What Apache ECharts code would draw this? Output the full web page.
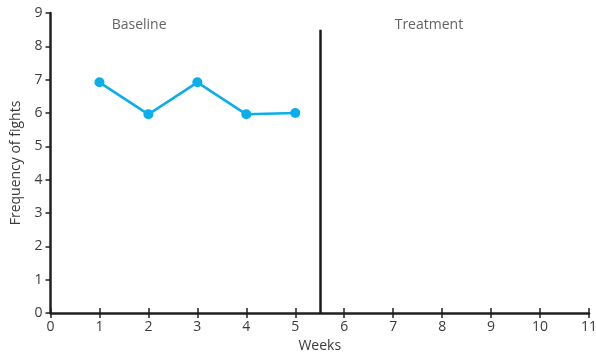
<!DOCTYPE html>
<html>
<head>
<meta charset="utf-8">
<script src="https://cdn.jsdelivr.net/npm/echarts@6/dist/echarts.min.js"></script>
<style>
  html, body { margin: 0; padding: 0; background: #fff; }
  #main { width: 596px; height: 358px; }
</style>
</head>
<body>
<div id="main"></div>
<script>
// baseline weeks and fight counts
const weeks = [1, 2, 3, 4, 5]
const fights = [6.92, 5.96, 6.92, 5.96, 6.0]
// phase divider and phase labels
const phaseChangeX = 5.5
const phaseChangeTop = 8.5
const phaseLabels = ['Baseline', 'Treatment']
const phaseLabelPos = [[1.81, 8.64], [7.73, 8.64]]

const axisColor = '#231f20'
const textColor = '#3a3a3a'
const font = 'Open Sans'

const chart = echarts.init(document.getElementById('main'))

const option = {
  animation: false,
  grid: { left: 50.5, right: 7, top: 13, bottom: 45, outerBoundsMode: 'none' },
  xAxis: [
    {
      type: 'value', min: 0, max: 11, interval: 1,
      name: 'Weeks', nameLocation: 'middle', nameGap: 25,
      nameTextStyle: { color: textColor, fontSize: 14, fontFamily: font },
      axisLine: { show: true, lineStyle: { color: axisColor, width: 2.5 } },
      axisTick: { show: true, length: 5, lineStyle: { color: axisColor, width: 1.5 } },
      axisLabel: { color: textColor, fontSize: 14, fontFamily: font, margin: 7 },
      splitLine: { show: false }
    },
    {
      // inner half of the crossing ticks
      type: 'value', min: 0, max: 11, interval: 1, position: 'bottom',
      axisLine: { show: false },
      axisTick: { show: true, inside: true, length: 5, lineStyle: { color: axisColor, width: 1.5 } },
      axisLabel: { show: false },
      splitLine: { show: false }
    }
  ],
  yAxis: {
    type: 'value', min: 0, max: 9, interval: 1,
    name: 'Frequency of fights', nameLocation: 'middle', nameGap: 27,
    nameTextStyle: { color: textColor, fontSize: 14, fontFamily: font },
    axisLine: { show: true, lineStyle: { color: axisColor, width: 2.5 } },
    axisTick: { show: true, length: 5, lineStyle: { color: axisColor, width: 1.5 } },
    axisLabel: { color: textColor, fontSize: 14, fontFamily: font, margin: 8 },
    splitLine: { show: false }
  },
  series: [
    {
      type: 'line',
      data: weeks.map((w, i) => [w, fights[i]]),
      symbol: 'circle', symbolSize: 10,
      lineStyle: { color: '#0aaeea', width: 2.5 },
      itemStyle: { color: '#0aaeea' },
      markLine: {
        silent: true, symbol: 'none', label: { show: false },
        lineStyle: { color: '#1a1a1a', width: 2.5, type: 'solid' },
        data: [[{ coord: [phaseChangeX, 0] }, { coord: [phaseChangeX, phaseChangeTop] }]]
      }
    },
    {
      type: 'scatter',
      symbolSize: 0,
      data: phaseLabelPos.map((p, i) => ({ value: p, name: phaseLabels[i] })),
      label: {
        show: true, position: 'inside', formatter: '{b}',
        color: textColor, fontSize: 14, fontFamily: font
      }
    }
  ]
}

chart.setOption(option)
</script>
</body>
</html>
